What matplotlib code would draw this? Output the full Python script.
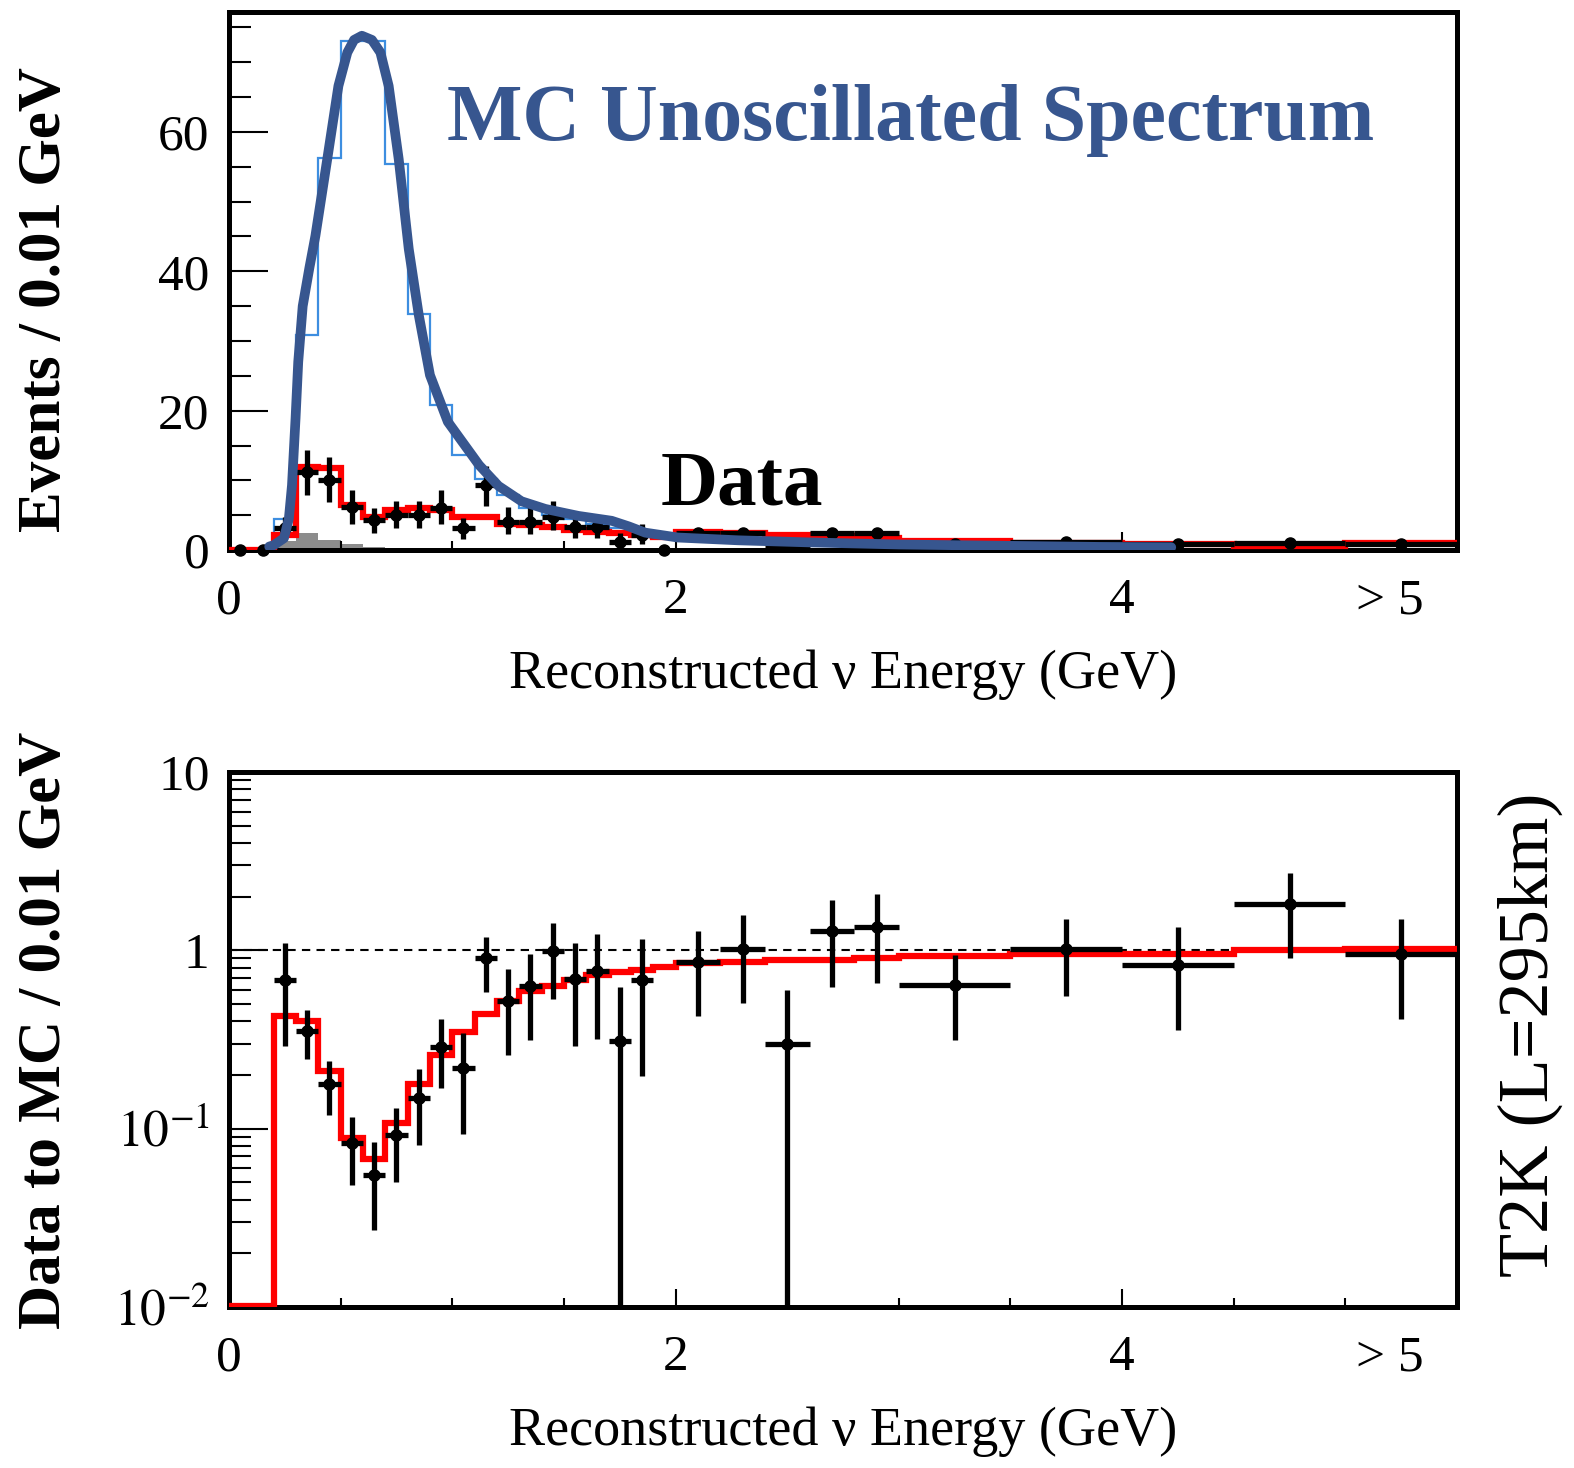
import numpy as np
import matplotlib
matplotlib.use('Agg')
import matplotlib.pyplot as plt
from matplotlib.ticker import FixedLocator, MultipleLocator, LogLocator, NullFormatter

plt.rcParams['font.family'] = ['Liberation Serif', 'DejaVu Serif']
plt.rcParams['mathtext.fontset'] = 'stix'

# bin edges of the data (0.1 GeV up to 2 GeV, then wider bins, last one is overflow)
data_edges = [0.0, 0.1, 0.2, 0.3, 0.4, 0.5, 0.6, 0.7, 0.8, 0.9, 1.0,
              1.1, 1.2, 1.3, 1.4, 1.5, 1.6, 1.7, 1.8, 1.9, 2.0,
              2.2, 2.4, 2.6, 2.8, 3.0, 3.5, 4.0, 4.5, 5.0, 5.5]

# observed events (top panel)
top_data = [0, 0, 3.1, 11.2, 10.0, 6.2, 4.3, 5.0, 5.0, 6.0, 3.1, 9.3, 4.0, 4.0, 4.8,
            3.3, 3.3, 1.2, 2.1, 0, 2.5, 2.5, 0.6, 2.5, 2.5, 0.85, 1.2, 0.8, 1.0, 0.9]
top_lo = [0, 0, 1.9, 7.9, 6.9, 3.7, 2.5, 3.1, 3.1, 3.7, 1.6, 6.3, 2.3, 2.3, 2.9,
          1.7, 1.7, 0.3, 0.9, 0, 1.9, 1.9, 0.2, 1.9, 1.9, 0.5, 0.8, 0.5, 0.6, 0.5]
top_hi = [0, 0, 4.8, 14.4, 13.3, 8.6, 6.1, 7.1, 7.1, 8.6, 4.6, 12.1, 6.2, 6.2, 7.1,
          5.0, 5.0, 2.4, 3.7, 0, 3.2, 3.2, 1.0, 3.2, 3.2, 1.2, 1.6, 1.1, 1.4, 1.3]

# data / MC ratio (bottom panel), nan where no events
nan = np.nan
ratio = [nan, nan, 0.685, 0.353, 0.179, 0.083, 0.055, 0.092, 0.149, 0.288, 0.219,
         0.905, 0.521, 0.634, 0.986, 0.688, 0.77, 0.312, 0.68, nan,
         0.86, 1.02, 0.299, 1.29, 1.36, 0.638, 1.02, 0.832, 1.82, 0.955]
ratio_lo = [nan, nan, 0.29, 0.246, 0.12, 0.048, 0.027, 0.050, 0.081, 0.17, 0.093,
            0.586, 0.258, 0.316, 0.533, 0.29, 0.32, 0.001, 0.198, nan,
            0.43, 0.507, 0.001, 0.626, 0.66, 0.315, 0.556, 0.356, 0.90, 0.41]
ratio_hi = [nan, nan, 1.096, 0.46, 0.238, 0.1155, 0.084, 0.131, 0.215, 0.41, 0.345,
            1.19, 0.785, 0.955, 1.42, 1.106, 1.23, 0.62, 1.16, nan,
            1.28, 1.57, 0.60, 1.92, 2.06, 0.946, 1.49, 1.35, 2.72, 1.49]

# oscillated MC prediction (red)
mc_edges = [0.0, 0.2, 0.3, 0.4, 0.5, 0.6, 0.7, 0.8, 0.9, 1.0, 1.1, 1.2, 1.3, 1.4,
            1.5, 1.6, 1.7, 1.8, 1.9, 2.0, 2.2, 2.4, 2.6, 2.8, 3.0, 3.5, 4.0, 4.5, 5.0, 5.5]
mc_osc = [0, 2.1, 11.9, 11.8, 6.5, 4.8, 5.7, 6.0, 5.7, 4.8, 4.7, 3.7, 3.6, 3.3, 2.9,
          2.6, 2.4, 2.1, 1.9, 2.6, 2.4, 2.2, 1.95, 1.8, 1.3, 1.05, 0.92, 0.58, 0.95]
mc_ratio = [0.0101, 0.43, 0.40, 0.21, 0.089, 0.068, 0.107, 0.177, 0.26, 0.35, 0.44,
            0.52, 0.59, 0.63, 0.68, 0.73, 0.76, 0.78, 0.81,
            0.845, 0.86, 0.88, 0.88, 0.91, 0.925, 0.955, 0.955, 1.0, 1.02]

# unoscillated MC histogram (light blue)
unosc_edges = [0.1, 0.2, 0.3, 0.4, 0.5, 0.6, 0.7, 0.8, 0.9, 1.0, 1.1,
               1.2, 1.3, 1.4, 1.5, 1.6, 1.7, 1.8, 1.9, 2.0]
unosc = [0, 4.5, 30.9, 56.2, 73.1, 73.1, 55.4, 33.9, 20.8, 13.6, 10.2,
         7.9, 6.0, 5.1, 4.4, 3.7, 3.1, 2.6, 2.3]

# background component (grey)
bkg_edges = [0.2, 0.3, 0.4, 0.5, 0.6, 0.7, 0.8, 0.9, 1.0, 1.2, 1.5, 2.0]
bkg = [1.3, 2.5, 1.4, 0.8, 0.5, 0.35, 0.25, 0.2, 0.15, 0.1, 0.08]

# hand drawn smooth unoscillated spectrum
curve_e = [0.18, 0.20, 0.246, 0.268, 0.282, 0.298, 0.31, 0.33, 0.36, 0.387, 0.44,
           0.49, 0.53, 0.56, 0.595, 0.64, 0.678, 0.715, 0.76, 0.805, 0.85, 0.90,
           0.98, 1.12, 1.207, 1.31, 1.417, 1.565, 1.714, 1.79, 1.864, 2.01, 2.28,
           2.6, 3.0, 3.5, 3.9, 4.22]
curve_y = [0.5, 0.7, 1.7, 4.5, 9.3, 18.9, 27.0, 35.0, 40.5, 45.1, 56.1,
           66.6, 71.4, 73.2, 73.8, 73.2, 71.4, 66.6, 56.1, 43.2, 33.7, 25.1,
           18.4, 12.2, 9.2, 7.0, 5.9, 4.9, 4.2, 3.4, 2.5, 1.8, 1.4,
           1.1, 0.8, 0.6, 0.45, 0.4]

blue_dark = '#37568f'
blue_light = '#3d8ee0'

de = np.array(data_edges)
cen = 0.5 * (de[1:] + de[:-1])
hw = 0.5 * (de[1:] - de[:-1])
td = np.array(top_data)
tlo = np.array(top_lo)
thi = np.array(top_hi)
has = td > 0

fig = plt.figure(figsize=(15.74, 14.68), dpi=100)
ax1 = fig.add_axes([0.1455, 0.6253, 0.7802, 0.3665])
ax2 = fig.add_axes([0.1455, 0.1097, 0.7802, 0.3644])

# ---- top panel
ax1.stairs(bkg, bkg_edges, fill=True, color='#8c8c8c', zorder=1)
ax1.stairs(unosc, unosc_edges, baseline=None, color=blue_light, lw=1.6, zorder=2)
ax1.stairs(mc_osc, mc_edges, baseline=None, color='red', lw=4.5, zorder=3)
ax1.errorbar(cen[has], td[has], xerr=hw[has], yerr=[td[has] - tlo[has], thi[has] - td[has]],
             fmt='o', color='k', ms=8, elinewidth=3.8, capsize=0, zorder=4)
ax1.plot(cen[~has], td[~has], 'o', color='k', ms=8, clip_on=False, zorder=4)
ax1.plot(curve_e, curve_y, color=blue_dark, lw=7, solid_capstyle='round',
         solid_joinstyle='round', zorder=6)
ax1.set_ylim(0, 77.2)
ax1.yaxis.set_major_locator(FixedLocator([0, 20, 40, 60]))
ax1.yaxis.set_minor_locator(MultipleLocator(5))
ax1.text(0.975, 58.9, 'MC Unoscillated Spectrum', color=blue_dark, fontsize=57.5,
         fontweight='bold', va='baseline', ha='left')
ax1.text(1.935, 6.6, 'Data', color='k', fontsize=57, fontweight='bold',
         va='baseline', ha='left')

# ---- bottom panel
r = np.array(ratio)
rlo = np.array(ratio_lo)
rhi = np.array(ratio_hi)
ok = ~np.isnan(r)
ax2.axhline(1.0, color='k', lw=1.5, ls=(0, (4, 3)), zorder=1)
ax2.stairs(mc_ratio, mc_edges, baseline=None, color='red', lw=4.5, zorder=3)
ax2.errorbar(cen[ok], r[ok], xerr=hw[ok], yerr=[r[ok] - rlo[ok], rhi[ok] - r[ok]],
             fmt='o', color='k', ms=8, elinewidth=3.8, capsize=0, zorder=4)
ax2.set_yscale('log')
ax2.set_ylim(0.01, 10)
ax2.yaxis.set_major_locator(FixedLocator([0.01, 0.1, 1, 10]))
ax2.set_yticklabels(['$10^{-2}$', '$10^{-1}$', '1', '10'])
ax2.yaxis.set_minor_locator(LogLocator(base=10, subs=np.arange(2, 10)))
ax2.yaxis.set_minor_formatter(NullFormatter())

for ax in (ax1, ax2):
    ax.set_xlim(0, 5.5)
    ax.set_xticks([0, 2, 4, 5.2])
    ax.set_xticklabels(['0', '2', '4', '> 5'])
    ax.xaxis.get_major_ticks()[3].tick1line.set_visible(False)
    ax.xaxis.set_minor_locator(FixedLocator([0.5, 1, 1.5, 2.5, 3, 3.5, 4.5, 5]))
    ax.tick_params(axis='both', which='both', direction='in', top=False, right=False,
                   labelsize=37, width=1.5)
    ax.tick_params(axis='x', which='major', length=13, pad=20)
    ax.tick_params(axis='x', which='minor', length=6.5)
    ax.tick_params(axis='y', which='major', length=28, pad=14)
    ax.tick_params(axis='y', which='minor', length=16)
    for s in ax.spines.values():
        s.set_linewidth(3.6)
    ax.set_xlabel(u'Reconstructed \u03bd Energy (GeV)', fontsize=39, labelpad=18)

fig.text(45 / 1574, 1 - 300 / 1468, 'Events / 0.01 GeV', rotation=90, fontsize=44,
         fontweight='bold', ha='center', va='center')
fig.text(45 / 1574, 1 - 1030 / 1468, 'Data to MC / 0.01 GeV', rotation=90, fontsize=44,
         fontweight='bold', ha='center', va='center')
fig.text(1530 / 1574, 1 - 1035 / 1468, 'T2K (L=295km)', rotation=90, fontsize=52,
         ha='center', va='center')

fig.savefig('out.png', dpi=100)
